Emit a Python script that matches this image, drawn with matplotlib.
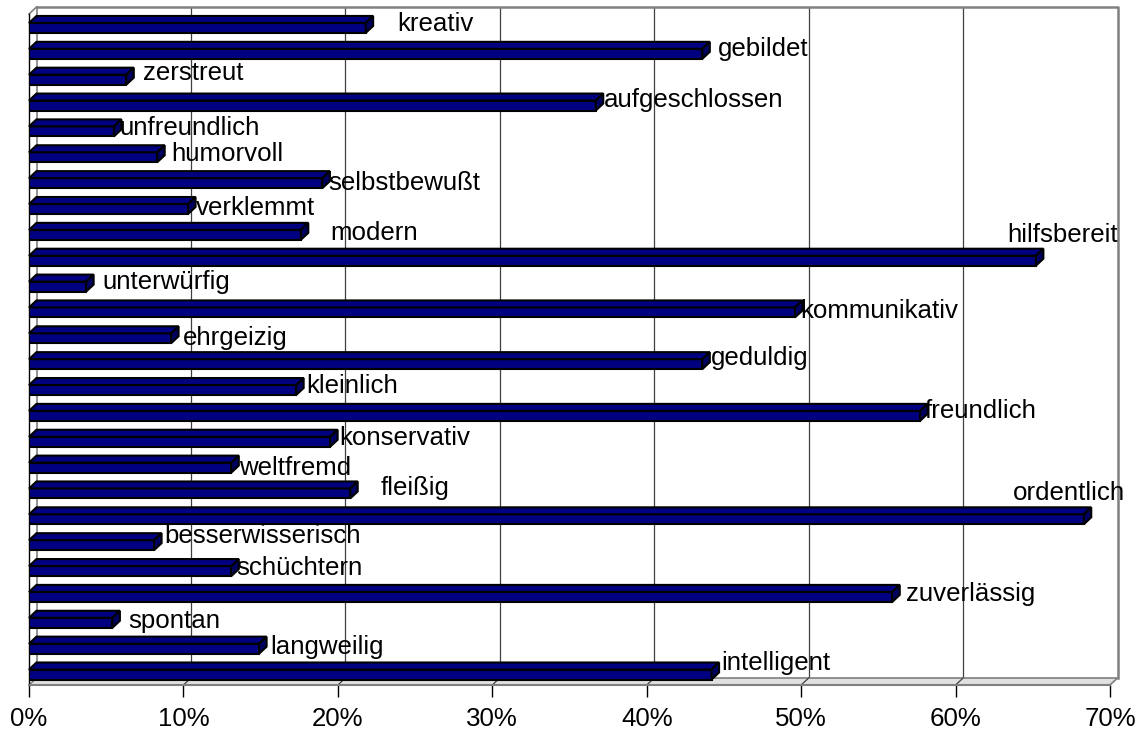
import matplotlib.pyplot as plt
from matplotlib.patches import Polygon

plt.rcParams['font.family'] = ['Liberation Sans', 'DejaVu Sans']

# traits listed from the bottom bar to the top bar
traits = ["intelligent", "langweilig", "spontan", "zuverlässig", "schüchtern",
          "besserwisserisch", "ordentlich", "fleißig", "weltfremd", "konservativ",
          "freundlich", "kleinlich", "geduldig", "ehrgeizig", "kommunikativ",
          "unterwürfig", "hilfsbereit", "modern", "verklemmt", "selbstbewußt",
          "humorvoll", "unfreundlich", "aufgeschlossen", "zerstreut", "gebildet",
          "kreativ"]
share = [44.2, 14.9, 5.4, 55.9, 13.1, 8.1, 68.3, 20.8, 13.1, 19.5,
         57.7, 17.3, 43.6, 9.2, 49.6, 3.7, 65.2, 17.6, 10.3, 19.0,
         8.3, 5.5, 36.7, 6.3, 43.6, 21.8]
xticks = [0, 10, 20, 30, 40, 50, 60, 70]
xticklabels = [f"{t}%" for t in xticks]

# label nudges in pixels: right of the bar end / baseline below bar centre
label_dx = [2, 4, 8, 6, -3, 3, -78, 23, 0, 2, -3, 3, 1, 4, -2, 9, -36, 22,
            0, -2, 7, -2, 1, 9, 8, 24]
label_dy = [-4.5, 5, 5, 4, 3.5, -2.5, -19, 2, 7, 3.3, 2, 2.7, 0.5, 6.6, 6, 2,
            -19, 5.6, 6.5, 6.6, 3.3, 3.7, 1, 0, 2, 3.5]

navy = '#000080'
cap_col = '#000060'
wall = '#808080'
grid = '#404040'

W, H = 1146, 731
fig = plt.figure(figsize=(W / 100, H / 100), dpi=100)
# front plane of the plot box in pixels
left, right, bottom, top = 29, 1110, 685, 14
ax = fig.add_axes([left / W, (H - bottom) / H, (right - left) / W, (bottom - top) / H])

ymin, ymax = -0.406, 25.54
ax.set_xlim(0, 70)
ax.set_ylim(ymin, ymax)

px_x = (right - left) / 70.0
px_y = (bottom - top) / (ymax - ymin)
# depth of the 3d box, in data units
dx = 7.5 / px_x
dy = 7.0 / px_y
bar_h = 10.0 / px_y

# back wall gridlines and frame
for t in xticks[1:-1]:
    ax.plot([t + dx, t + dx], [ymin + dy, ymax + dy], color=grid, lw=0.9,
            zorder=0, clip_on=False)
    ax.plot([t, t + dx], [ymin, ymin + dy], color=grid, lw=0.9, zorder=1.5,
            clip_on=False)
ax.plot([dx, 70 + dx, 70 + dx], [ymax + dy, ymax + dy, ymin + dy], color=wall,
        lw=1.8, zorder=0, clip_on=False)

# left wall
ax.plot([dx, dx], [ymin + dy, ymax + dy], color=wall, lw=1.2, zorder=0, clip_on=False)
ax.plot([0, dx], [ymax, ymax + dy], color=wall, lw=1.2, zorder=0, clip_on=False)

# floor
floor = Polygon([(0, ymin), (70, ymin), (70 + dx, ymin + dy), (dx, ymin + dy)],
                closed=True, facecolor='#e0e0e0', edgecolor=wall, lw=1.2,
                zorder=1, clip_on=False)
ax.add_patch(floor)

# bars: front face, top face and end cap
ypos = list(range(len(traits)))
ax.barh(ypos, share, height=bar_h, color=navy, edgecolor='black', linewidth=1.5,
        zorder=4)
for y, v in zip(ypos, share):
    y0, y1 = y - bar_h / 2, y + bar_h / 2
    topface = Polygon([(0, y1), (v, y1), (v + dx, y1 + dy), (dx, y1 + dy)],
                      closed=True, facecolor=navy, edgecolor='black', lw=1.5,
                      zorder=4, clip_on=False)
    cap = Polygon([(v, y0), (v + dx, y0 + dy), (v + dx, y1 + dy), (v, y1)],
                  closed=True, facecolor=cap_col, edgecolor='black', lw=1.5,
                  zorder=4, clip_on=False)
    ax.add_patch(topface)
    ax.add_patch(cap)

# category names next to the bars
for y, v, name, ox, oy in zip(ypos, share, traits, label_dx, label_dy):
    ax.annotate(name, xy=(v + dx, y), xytext=(ox, -oy), textcoords='offset pixels',
                ha='left', va='baseline', fontsize=18.6, color='black',
                zorder=3, annotation_clip=False)

for s in ['top', 'right']:
    ax.spines[s].set_visible(False)
ax.spines['left'].set_color('black')
ax.spines['left'].set_linewidth(1.0)
ax.spines['bottom'].set_color(wall)
ax.spines['bottom'].set_linewidth(1.5)

ax.set_yticks([])
ax.set_xticks(xticks)
ax.set_xticklabels(xticklabels, fontsize=18.6)
ax.tick_params(axis='x', length=8.5, width=1.0, color='black', pad=7)
ax.set_facecolor('none')

fig.savefig('out.png', dpi=100)
